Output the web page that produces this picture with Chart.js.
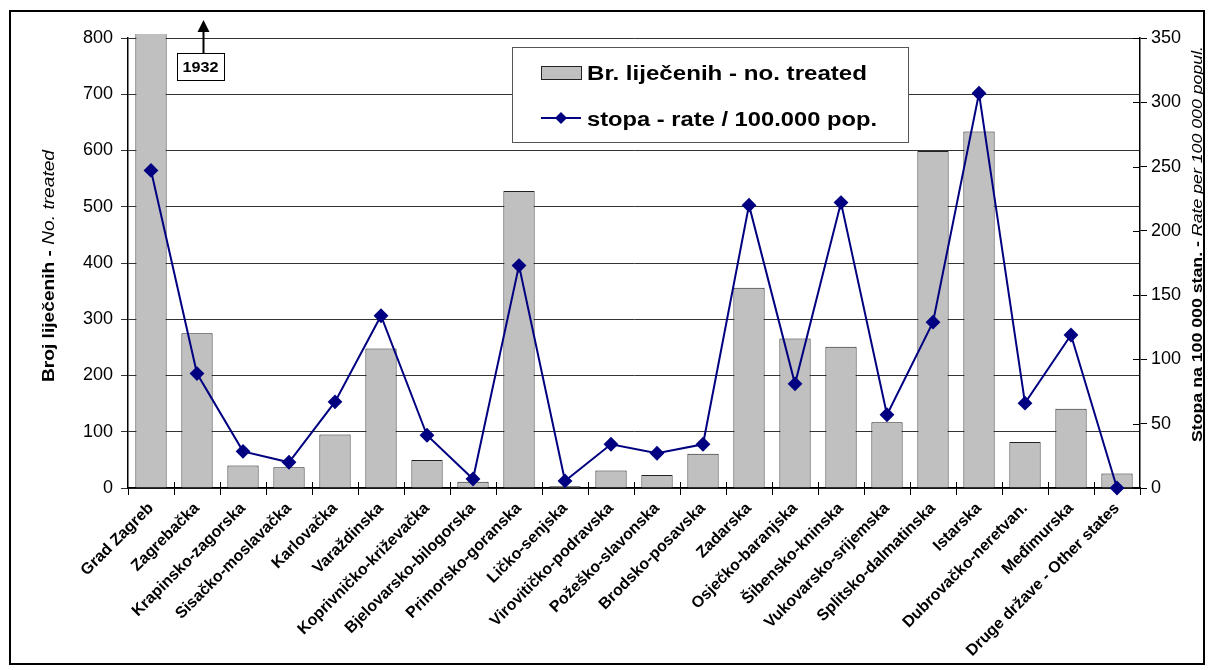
<!DOCTYPE html>
<html>
<head>
<meta charset="utf-8">
<script src="https://cdn.jsdelivr.net/npm/chart.js@4/dist/chart.umd.min.js"></script>
<style>
  body { margin: 0; background: #fff; }
  #wrap { position: relative; width: 1214px; height: 670px; }
</style>
</head>
<body>
<div id="wrap"><canvas id="myChart" width="1214" height="670"></canvas></div>
<script>
/* data */
const zupanije = [
  'Grad Zagreb', 'Zagrebačka', 'Krapinsko-zagorska', 'Sisačko-moslavačka', 'Karlovačka',
  'Varaždinska', 'Koprivničko-križevačka', 'Bjelovarsko-bilogorska', 'Primorsko-goranska',
  'Ličko-senjska', 'Virovitičko-podravska', 'Požeško-slavonska', 'Brodsko-posavska',
  'Zadarska', 'Osječko-baranjska', 'Šibensko-kninska', 'Vukovarsko-srijemska',
  'Splitsko-dalmatinska', 'Istarska', 'Dubrovačko-neretvan.', 'Međimurska',
  'Druge države - Other states'
];
const broj_lijecenih = [1932, 275, 40, 37, 95, 248, 50, 11, 528, 3, 31, 23, 61, 356, 266, 251, 117, 599, 634, 82, 141, 26];
const stopa = [247, 89, 28.5, 20, 67, 134, 41, 7, 173, 5.5, 34, 27, 34, 220, 81, 222, 57, 129, 307, 66, 119, 0];
const zagreb_oznaka = '1932';

const FONT = '"Liberation Sans", Arial, sans-serif';

// draws text runs (mixed bold/italic) stretched to a given length
function drawRuns(c, runs, x, y, len, align) {
  let total = 0;
  runs.forEach(r => { c.font = r.font; r.w = c.measureText(r.text).width; total += r.w; });
  const k = len / total;
  c.save();
  c.translate(x, y);
  c.scale(k, 1);
  let sx = align === 'left' ? 0 : -total / 2;
  c.textAlign = 'left';
  c.textBaseline = 'middle';
  runs.forEach(r => { c.font = r.font; c.fillText(r.text, sx, 0); sx += r.w; });
  c.restore();
}

/* frame, legend, axis titles, annotation */
const extras = {
  id: 'extras',
  afterDraw(chart) {
    const c = chart.ctx;
    const a = chart.chartArea;
    const x = chart.scales.x;
    const y1 = chart.scales.y1;
    c.save();

    // inner tick marks (x axis and right axis)
    c.strokeStyle = '#000';
    c.lineWidth = 1;
    c.beginPath();
    for (let i = 1; i < zupanije.length; i++) {
      const px = Math.round((x.getPixelForValue(i - 1) + x.getPixelForValue(i)) / 2) + 0.5;
      c.moveTo(px, a.bottom - 6);
      c.lineTo(px, a.bottom);
    }
    y1.ticks.forEach(t => {
      const py = Math.round(y1.getPixelForValue(t.value)) + 0.5;
      c.moveTo(a.right - 7, py);
      c.lineTo(a.right, py);
    });
    c.stroke();

    // outer frame
    c.lineWidth = 2;
    c.strokeStyle = '#000';
    c.strokeRect(10, 11, 1194, 653);

    // legend
    const lx = 512, ly = 47, lw = 396, lh = 95;
    c.fillStyle = '#fff';
    c.fillRect(lx, ly, lw, lh);
    c.lineWidth = 1;
    c.strokeStyle = '#555';
    c.strokeRect(lx + 0.5, ly + 0.5, lw, lh);
    c.fillStyle = '#C0C0C0';
    c.fillRect(541, 66, 40, 13);
    c.strokeStyle = '#222';
    c.strokeRect(541.5, 66.5, 40, 13);
    c.strokeStyle = '#000080';
    c.lineWidth = 2;
    c.beginPath();
    c.moveTo(541, 118);
    c.lineTo(581, 118);
    c.stroke();
    c.fillStyle = '#000080';
    c.beginPath();
    c.moveTo(561, 112); c.lineTo(567, 118); c.lineTo(561, 124); c.lineTo(555, 118);
    c.closePath();
    c.fill();
    c.fillStyle = '#000';
    const lf = 'bold 20px ' + FONT;
    drawRuns(c, [{ text: chart.data.datasets[1].label, font: lf }], 587, 74, 280, 'left');
    drawRuns(c, [{ text: chart.data.datasets[0].label, font: lf }], 587, 120, 290, 'left');

    // left axis title
    c.save();
    c.translate(50, 266);
    c.rotate(-Math.PI / 2);
    drawRuns(c, [
      { text: 'Broj liječenih - ', font: 'bold 16px ' + FONT },
      { text: 'No. treated', font: 'italic 16px ' + FONT }
    ], 0, 0, 232, 'center');
    c.restore();

    // right axis title
    c.save();
    c.translate(1198, 244);
    c.rotate(-Math.PI / 2);
    drawRuns(c, [
      { text: 'Stopa na 100 000 stan. - ', font: 'bold 14px ' + FONT },
      { text: 'Rate per 100 000 popul.', font: 'italic 14px ' + FONT }
    ], 0, 0, 396, 'center');
    c.restore();

    // 1932 annotation
    const ax = Math.round(x.getPixelForValue(1)) + 6.5;
    c.fillStyle = '#fff';
    c.fillRect(177, 53, 47, 27);
    c.strokeStyle = '#000';
    c.lineWidth = 1;
    c.strokeRect(177.5, 53.5, 47, 27);
    c.fillStyle = '#000';
    drawRuns(c, [{ text: zagreb_oznaka, font: 'bold 15px ' + FONT }], 200.5, 67.5, 36, 'center');
    c.lineWidth = 2;
    c.beginPath();
    c.moveTo(ax, 53);
    c.lineTo(ax, 30);
    c.stroke();
    c.beginPath();
    c.moveTo(ax, 20); c.lineTo(ax + 6, 32); c.lineTo(ax - 6, 32);
    c.closePath();
    c.fill();

    c.restore();
  }
};

const ctx = document.getElementById('myChart').getContext('2d');
const myChart = new Chart(ctx, {
  data: {
    labels: zupanije,
    datasets: [
      {
        type: 'line',
        label: 'stopa - rate / 100.000 pop.',
        data: stopa,
        yAxisID: 'y1',
        borderColor: '#000080',
        backgroundColor: '#000080',
        borderWidth: 2,
        pointStyle: 'rectRot',
        pointRadius: 6,
        pointHoverRadius: 6,
        tension: 0,
        clip: false,
        order: 0
      },
      {
        type: 'bar',
        label: 'Br. liječenih - no. treated',
        data: broj_lijecenih,
        yAxisID: 'y',
        backgroundColor: '#C0C0C0',
        borderColor: '#222',
        borderWidth: 1,
        barPercentage: 0.68,
        categoryPercentage: 1,
        clip: { left: 0, top: 4, right: 0, bottom: 0 },
        order: 1
      }
    ]
  },
  options: {
    responsive: false,
    animation: false,
    layout: { padding: { top: 38, left: 0, right: 0, bottom: 0 } },
    plugins: {
      legend: { display: false },
      tooltip: { enabled: false }
    },
    scales: {
      x: {
        offset: true,
        grid: { drawOnChartArea: false, tickLength: 7, color: '#000', offset: true },
        border: { color: '#000', width: 1.5 },
        ticks: {
          autoSkip: false, minRotation: 45, maxRotation: 45, padding: 4,
          color: '#000', font: { family: FONT, size: 16, weight: 'bold' }
        },
        afterFit: s => { s.height = 182; }
      },
      y: {
        position: 'left',
        min: 0, max: 800,
        grid: { color: '#333', tickLength: 7 },
        border: { color: '#000', width: 1.5 },
        ticks: { stepSize: 100, padding: 8, color: '#000', font: { family: FONT, size: 18 } },
        afterFit: s => { s.width = 128; }
      },
      y1: {
        position: 'right',
        min: 0, max: 350,
        grid: { drawOnChartArea: false, tickLength: 7, color: '#000' },
        border: { color: '#000', width: 1.5 },
        ticks: { stepSize: 50, padding: 4, color: '#000', font: { family: FONT, size: 18 } },
        afterFit: s => { s.width = 74; }
      }
    }
  },
  plugins: [extras]
});
</script>
</body>
</html>
